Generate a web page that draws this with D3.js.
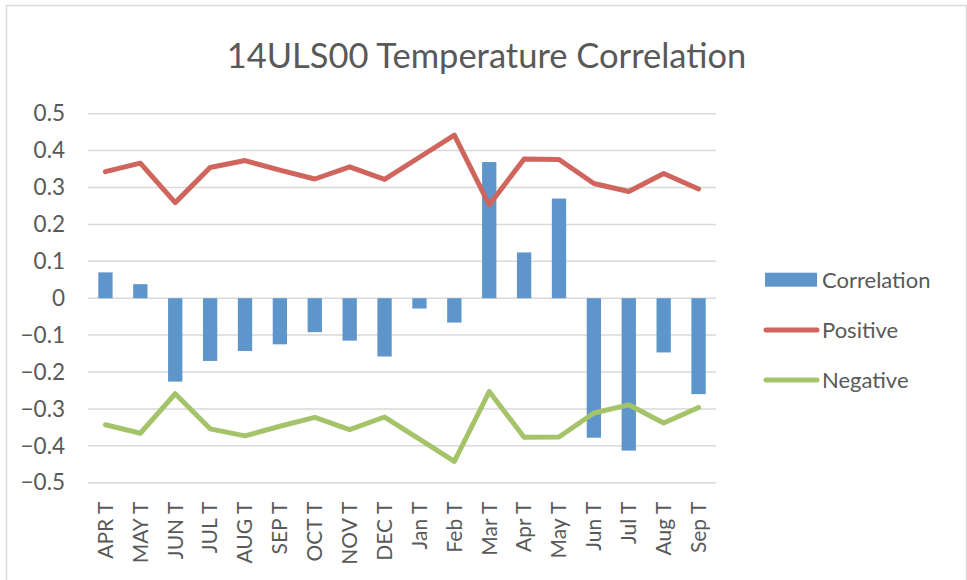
<!DOCTYPE html>
<html lang="en">
<head>
  <meta charset="utf-8">
  <title>14ULS00 Temperature Correlation</title>
  <style>
  body { margin: 0; background: #fff; }
  text { font-family: Lato, "Open Sans", sans-serif; fill: #595959; }
  .grid line { stroke: #d9d9d9; stroke-width: 1.5px; }
  .axis path, .axis line { display: none; }
  </style>
  <script src="https://cdn.jsdelivr.net/npm/d3@7"></script>
</head>
<body>
  <svg width="967" height="580"></svg>
  <script>
  // data
  var months = ["APR T", "MAY T", "JUN T", "JUL T", "AUG T", "SEP T", "OCT T", "NOV T", "DEC T",
                "Jan T", "Feb T", "Mar T", "Apr T", "May T", "Jun T", "Jul T", "Aug T", "Sep T"];
  var correlation = [0.070, 0.038, -0.226, -0.170, -0.143, -0.125, -0.092, -0.115, -0.158,
                     -0.028, -0.066, 0.369, 0.124, 0.270, -0.378, -0.413, -0.147, -0.260];
  var positive = [0.343, 0.366, 0.259, 0.354, 0.373, 0.347, 0.323, 0.356, 0.322,
                  0.382, 0.442, 0.253, 0.377, 0.376, 0.311, 0.289, 0.338, 0.296];
  var negative = [-0.343, -0.366, -0.259, -0.354, -0.373, -0.347, -0.323, -0.356, -0.322,
                  -0.382, -0.442, -0.253, -0.377, -0.376, -0.311, -0.289, -0.338, -0.296];
  var yTicks = [0.5, 0.4, 0.3, 0.2, 0.1, 0, -0.1, -0.2, -0.3, -0.4, -0.5];

  var colors = {Correlation: "#5e95ca", Positive: "#cf655c", Negative: "#a5c46a"};

  var svg = d3.select("svg"),
      margin = {top: 113.7, right: 251, bottom: 97.3, left: 88},
      width = +svg.attr("width") - margin.left - margin.right,
      height = +svg.attr("height") - margin.top - margin.bottom;

  // chart border
  svg.append("rect")
      .attr("x", 6.5).attr("y", 5.5)
      .attr("width", 960).attr("height", 580)
      .attr("fill", "none")
      .attr("stroke", "#d9d9d9")
      .attr("stroke-width", 1.5);

  var g = svg.append("g").attr("transform", "translate(" + margin.left + "," + margin.top + ")");

  var x = d3.scaleBand()
      .domain(months)
      .range([0, width])
      .paddingInner(0.59)
      .paddingOuter(0.295);

  var y = d3.scaleLinear()
      .domain([-0.5, 0.5])
      .range([height, 0]);

  var cx = function(d) { return x(d) + x.bandwidth() / 2; };

  g.append("g")
      .attr("class", "grid")
      .selectAll("line")
      .data(yTicks)
      .enter().append("line")
        .attr("x1", 0)
        .attr("x2", width)
        .attr("y1", function(d) { return y(d); })
        .attr("y2", function(d) { return y(d); });

  g.append("g")
      .attr("class", "axis axis--y")
      .call(d3.axisLeft(y).tickValues(yTicks).tickSize(0).tickPadding(23)
        .tickFormat(function(d) { return d === 0 ? "0" : d3.format(".1f")(d); }))
      .selectAll("text")
        .style("font-size", "22.5px")
        .style("font-family", "Lato, sans-serif")
        .attr("fill", "#595959");

  g.append("g")
      .selectAll("rect")
      .data(correlation)
      .enter().append("rect")
        .attr("x", function(d, i) { return x(months[i]); })
        .attr("y", function(d) { return y(Math.max(0, d)); })
        .attr("width", x.bandwidth())
        .attr("height", function(d) { return Math.abs(y(d) - y(0)); })
        .attr("fill", colors.Correlation);

  var line = d3.line()
      .x(function(d, i) { return cx(months[i]); })
      .y(function(d) { return y(d); });

  [["Positive", positive], ["Negative", negative]].forEach(function(s) {
    g.append("path")
        .datum(s[1])
        .attr("d", line)
        .attr("fill", "none")
        .attr("stroke", colors[s[0]])
        .attr("stroke-width", 5)
        .attr("stroke-linejoin", "round")
        .attr("stroke-linecap", "round");
  });

  g.append("g")
      .selectAll("text")
      .data(months)
      .enter().append("text")
        .attr("transform", function(d) { return "translate(" + cx(d) + "," + (height + 19) + ") rotate(-90)"; })
        .attr("text-anchor", "end")
        .attr("dy", "0.35em")
        .style("font-size", "21px")
        .text(function(d) { return d; });

  svg.append("text")
      .attr("x", 486.5)
      .attr("y", 68)
      .attr("text-anchor", "middle")
      .style("font-size", "34.5px")
      .text("14ULS00 Temperature Correlation");

  // legend
  var legend = svg.append("g").attr("transform", "translate(765,0)");

  legend.append("rect")
      .attr("x", 0).attr("y", 272.7)
      .attr("width", 52).attr("height", 14)
      .attr("fill", colors.Correlation);

  legend.selectAll("line")
      .data([["Positive", 330], ["Negative", 380]])
      .enter().append("line")
        .attr("x1", 1).attr("x2", 52)
        .attr("y1", function(d) { return d[1]; })
        .attr("y2", function(d) { return d[1]; })
        .attr("stroke", function(d) { return colors[d[0]]; })
        .attr("stroke-width", 5)
        .attr("stroke-linecap", "round");

  legend.selectAll(".label")
      .data([["Correlation", 280], ["Positive", 330], ["Negative", 380]])
      .enter().append("text")
        .attr("class", "label")
        .attr("x", 57)
        .attr("y", function(d) { return d[1]; })
        .attr("dy", "0.35em")
        .style("font-size", "22px")
        .text(function(d) { return d[0]; });
  </script>
</body>
</html>
